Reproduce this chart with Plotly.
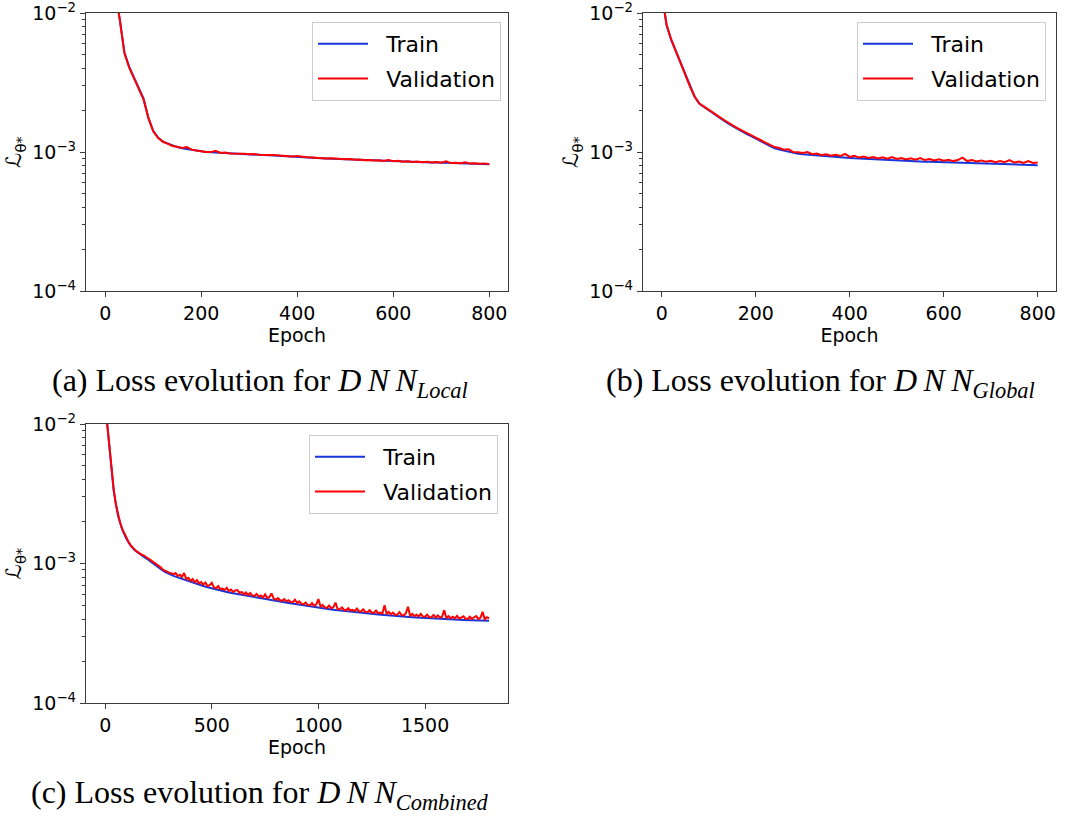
import plotly.graph_objects as go

# ---------------- data (loss values in units of 1e-3) ----------------
epochs_a = list(range(0, 801, 10))
train_a = [60, 30, 15, 9.2, 5.2, 4.1, 3.45, 2.9, 2.42, 1.75,
           1.42, 1.27, 1.19, 1.15, 1.11, 1.085, 1.065, 1.05, 1.035, 1.02,
           1.005, 1.0, 0.995, 0.99, 0.985, 0.98, 0.975, 0.97, 0.968, 0.965,
           0.96, 0.957, 0.953, 0.95, 0.947, 0.943, 0.94, 0.937, 0.933, 0.93,
           0.925, 0.92, 0.915, 0.91, 0.906, 0.902, 0.898, 0.895, 0.892, 0.889,
           0.886, 0.883, 0.88, 0.877, 0.874, 0.871, 0.868, 0.866, 0.863, 0.861,
           0.858, 0.856, 0.854, 0.852, 0.85, 0.848, 0.846, 0.844, 0.842, 0.84,
           0.838, 0.836, 0.834, 0.832, 0.83, 0.828, 0.826, 0.824, 0.822, 0.82,
           0.818]
val_a = [58, 29.5, 14.8, 9.1, 5.15, 4.05, 3.42, 2.88, 2.38, 1.76,
         1.41, 1.265, 1.185, 1.15, 1.105, 1.09, 1.07, 1.085, 1.04, 1.025,
         1.01, 1.0, 0.998, 1.02, 0.985, 0.99, 0.975, 0.978, 0.97, 0.972,
         0.962, 0.968, 0.955, 0.958, 0.95, 0.952, 0.945, 0.94, 0.943, 0.93,
         0.935, 0.92, 0.915, 0.912, 0.905, 0.908, 0.898, 0.9, 0.892, 0.895,
         0.885, 0.89, 0.878, 0.884, 0.872, 0.876, 0.868, 0.872, 0.862, 0.875,
         0.858, 0.865, 0.852, 0.858, 0.848, 0.853, 0.845, 0.85, 0.84, 0.846,
         0.836, 0.858, 0.832, 0.838, 0.83, 0.842, 0.825, 0.83, 0.822, 0.828,
         0.815]

epochs_b = list(range(0, 801, 10))
train_b = [14, 8.2, 6.4, 5.3, 4.3, 3.55, 2.95, 2.5, 2.22, 2.1,
           2.0, 1.9, 1.8, 1.7, 1.61, 1.54, 1.47, 1.41, 1.35, 1.3,
           1.25, 1.2, 1.15, 1.1, 1.065, 1.04, 1.02, 1.0, 0.985, 0.972,
           0.962, 0.955, 0.948, 0.942, 0.936, 0.93, 0.925, 0.92, 0.915, 0.91,
           0.905, 0.9, 0.896, 0.892, 0.888, 0.884, 0.88, 0.877, 0.874, 0.871,
           0.868, 0.865, 0.862, 0.859, 0.857, 0.855, 0.852, 0.85, 0.848, 0.846,
           0.844, 0.842, 0.84, 0.838, 0.836, 0.834, 0.832, 0.83, 0.828, 0.826,
           0.824, 0.822, 0.82, 0.818, 0.816, 0.814, 0.812, 0.81, 0.808, 0.806,
           0.804]
val_b = [14, 8.3, 6.45, 5.3, 4.3, 3.55, 2.96, 2.5, 2.23, 2.12,
         2.02, 1.92, 1.81, 1.72, 1.63, 1.56, 1.49, 1.43, 1.36, 1.32,
         1.27, 1.22, 1.17, 1.13, 1.085, 1.07, 1.04, 1.045, 1.0, 0.995,
         0.985, 1.0, 0.965, 0.975, 0.95, 0.962, 0.94, 0.955, 0.935, 0.97,
         0.922, 0.94, 0.912, 0.928, 0.905, 0.92, 0.9, 0.915, 0.895, 0.92,
         0.89, 0.905, 0.885, 0.9, 0.88, 0.905, 0.875, 0.89, 0.87, 0.885,
         0.865, 0.88, 0.86, 0.875, 0.91, 0.86, 0.875, 0.855, 0.87, 0.85,
         0.865, 0.845, 0.86, 0.845, 0.875, 0.84, 0.855, 0.835, 0.86, 0.835,
         0.84]

epochs_c_train = list(range(0, 1801, 20))
train_c = [14, 6.8, 3.3, 2.2, 1.75, 1.5, 1.34, 1.24, 1.17, 1.12,
           1.07, 1.02, 0.97, 0.915, 0.87, 0.84, 0.815, 0.795, 0.775, 0.755,
           0.735, 0.72, 0.705, 0.69, 0.675, 0.662, 0.65, 0.64, 0.63, 0.62,
           0.611, 0.603, 0.595, 0.587, 0.579, 0.572, 0.565, 0.558, 0.551, 0.545,
           0.539, 0.533, 0.527, 0.521, 0.515, 0.509, 0.503, 0.497, 0.491, 0.486,
           0.481, 0.476, 0.472, 0.468, 0.464, 0.46, 0.456, 0.452, 0.449, 0.446,
           0.443, 0.44, 0.437, 0.434, 0.431, 0.428, 0.425, 0.422, 0.42, 0.418,
           0.416, 0.414, 0.412, 0.41, 0.408, 0.406, 0.404, 0.402, 0.4, 0.399,
           0.398, 0.397, 0.396, 0.395, 0.394, 0.393, 0.392, 0.391, 0.39, 0.389,
           0.388]
epochs_c_val = list(range(0, 1801, 10))
val_c = [14, 9.6, 6.9, 4.8, 3.4, 2.65, 2.22, 1.96, 1.77, 1.63,
         1.51, 1.42, 1.35, 1.295, 1.25, 1.215, 1.18, 1.16, 1.145, 1.11,
         1.09, 1.065, 1.04, 1.01, 0.99, 0.955, 0.94, 0.905, 0.895, 0.875,
         0.86, 0.85, 0.84, 0.855, 0.815, 0.83, 0.8, 0.855, 0.775, 0.79,
         0.75, 0.775, 0.735, 0.76, 0.72, 0.735, 0.705, 0.73, 0.69, 0.7,
         0.728, 0.675, 0.665, 0.69, 0.655, 0.66, 0.645, 0.67, 0.635, 0.65,
         0.625, 0.64, 0.645, 0.615, 0.625, 0.6, 0.62, 0.595, 0.615, 0.59,
         0.585, 0.605, 0.58, 0.59, 0.57, 0.6, 0.565, 0.575, 0.61, 0.56,
         0.55, 0.565, 0.545, 0.54, 0.555, 0.535, 0.545, 0.53, 0.528, 0.55,
         0.52, 0.535, 0.515, 0.51, 0.525, 0.505, 0.5, 0.52, 0.497, 0.51,
         0.556, 0.49, 0.505, 0.485, 0.48, 0.5, 0.478, 0.485, 0.525, 0.472,
         0.47, 0.485, 0.466, 0.462, 0.478, 0.46, 0.465, 0.456, 0.475, 0.455,
         0.452, 0.47, 0.45, 0.447, 0.462, 0.445, 0.442, 0.46, 0.44, 0.445,
         0.437, 0.503, 0.435, 0.45, 0.432, 0.445, 0.428, 0.43, 0.448, 0.427,
         0.425, 0.44, 0.49, 0.422, 0.435, 0.42, 0.43, 0.418, 0.436, 0.416,
         0.415, 0.43, 0.413, 0.412, 0.428, 0.41, 0.425, 0.409, 0.415, 0.463,
         0.407, 0.42, 0.405, 0.415, 0.404, 0.422, 0.403, 0.41, 0.418, 0.402,
         0.401, 0.415, 0.4, 0.412, 0.42, 0.399, 0.41, 0.45, 0.398, 0.412,
         0.405]

series_names = ["Train", "Validation"]
captions = ["(a) Loss evolution for <i>D\u2009N\u2009N</i><sub><i>Local</i></sub>",
            "(b) Loss evolution for <i>D\u2009N\u2009N</i><sub><i>Global</i></sub>",
            "(c) Loss evolution for <i>D\u2009N\u2009N</i><sub><i>Combined</i></sub>"]
x_ticks_ab = [0, 200, 400, 600, 800]
x_ticks_c = [0, 500, 1000, 1500]
y_ticks = [1e-4, 1e-3, 1e-2]
y_ticktext = ["10<sup>−4</sup>", "10<sup>−3</sup>", "10<sup>−2</sup>"]
y_minor = [m * 10 ** e for e in (-4, -3) for m in range(2, 10)]

# ---------------- figure ----------------
W, H = 1081, 820
BLUE = "#1636dc"
RED = "#ff0000"
SCALE = 1e-3
GAP = "\u2002\u200a"   # extra space between legend line sample and its label

fig = go.Figure()

panels = [
    (epochs_a, train_a, epochs_a, val_a, "x", "y", "legend"),
    (epochs_b, train_b, epochs_b, val_b, "x2", "y2", "legend2"),
    (epochs_c_train, train_c, epochs_c_val, val_c, "x3", "y3", "legend3"),
]
for i, (ex_t, tr, ex_v, va, xa, ya, lg) in enumerate(panels):
    fig.add_trace(go.Scatter(x=ex_t, y=[v * SCALE for v in tr], mode="lines",
                             name=GAP + series_names[0], line=dict(color=BLUE, width=2),
                             xaxis=xa, yaxis=ya, legend=lg, legendgroup=f"t{i}"))
    fig.add_trace(go.Scatter(x=ex_v, y=[v * SCALE for v in va], mode="lines",
                             name=GAP + series_names[1], line=dict(color=RED, width=2),
                             xaxis=xa, yaxis=ya, legend=lg, legendgroup=f"v{i}"))

def sx(px):
    return px / W

def sy(py):
    return 1 - py / H

FONT = dict(family="DejaVu Sans", size=19, color="black")
AXCOL = "#3a3a3a"

def xaxis(domain, anchor, rng, ticks):
    return dict(domain=domain, anchor=anchor, range=rng, tickvals=ticks,
                showgrid=False, zeroline=False, showline=True, mirror=True,
                linecolor=AXCOL, linewidth=1.3, ticks="outside", ticklen=5,
                tickwidth=1.2, tickcolor=AXCOL, tickfont=FONT, automargin=False,
                ticklabeloverflow="allow",
                title=dict(text="Epoch", font=FONT, standoff=2))

def yaxis(domain, anchor):
    return dict(domain=domain, anchor=anchor, type="log", range=[-4, -2],
                tickvals=y_ticks, ticktext=y_ticktext,
                showgrid=False, zeroline=False, showline=True, mirror=True,
                linecolor=AXCOL, linewidth=1.3, ticks="outside", ticklen=5,
                tickwidth=1.2, tickcolor=AXCOL, tickfont=FONT, automargin=False,
                ticklabeloverflow="allow",
                minor=dict(tickvals=y_minor, ticks="outside", ticklen=3,
                           tickwidth=1, tickcolor=AXCOL),
                title=dict(text="ℒ<sub>θ*</sub>", font=dict(family="DejaVu Sans", size=21, color="black"),
                           standoff=4))

dom_a_x = [sx(86), sx(508)]
dom_b_x = [sx(643), sx(1056)]
dom_top_y = [sy(291), sy(13)]
dom_bot_y = [sy(703), sy(424)]

legend_style = dict(bgcolor="rgba(255,255,255,0.8)", bordercolor="#cccccc", borderwidth=1,
                    font=dict(family="DejaVu Sans", size=22, color="black"),
                    xanchor="right", yanchor="top", itemwidth=50,
                    tracegroupgap=3)

fig.update_layout(
    width=W, height=H,
    margin=dict(l=0, r=0, t=0, b=0, autoexpand=False),
    paper_bgcolor="white", plot_bgcolor="white",
    xaxis=xaxis(dom_a_x, "y", [-40, 839], x_ticks_ab),
    yaxis=yaxis(dom_top_y, "x"),
    xaxis2=xaxis(dom_b_x, "y2", [-40, 839], x_ticks_ab),
    yaxis2=yaxis(dom_top_y, "x2"),
    xaxis3=xaxis(dom_a_x, "y3", [-90, 1889], x_ticks_c),
    yaxis3=yaxis(dom_bot_y, "x3"),
    legend=dict(x=sx(501), y=sy(22), **legend_style),
    legend2=dict(x=sx(1046), y=sy(22), **legend_style),
    legend3=dict(x=sx(498), y=sy(435), **legend_style),
    showlegend=True,
)

cap_font = dict(family="Liberation Serif", size=32, color="black")
for text, cx, cy in [(captions[0], 260, 382), (captions[1], 820, 382), (captions[2], 260, 794)]:
    fig.add_annotation(text=text, x=sx(cx), y=sy(cy), xref="paper", yref="paper",
                       xanchor="center", yanchor="middle", showarrow=False, font=cap_font)

# remove the browser's default 8px page margin so the figure fills the window
fig.write_html("out.html", config={"displayModeBar": False},
               post_script="document.body.style.margin='0';document.body.style.overflow='hidden';")
